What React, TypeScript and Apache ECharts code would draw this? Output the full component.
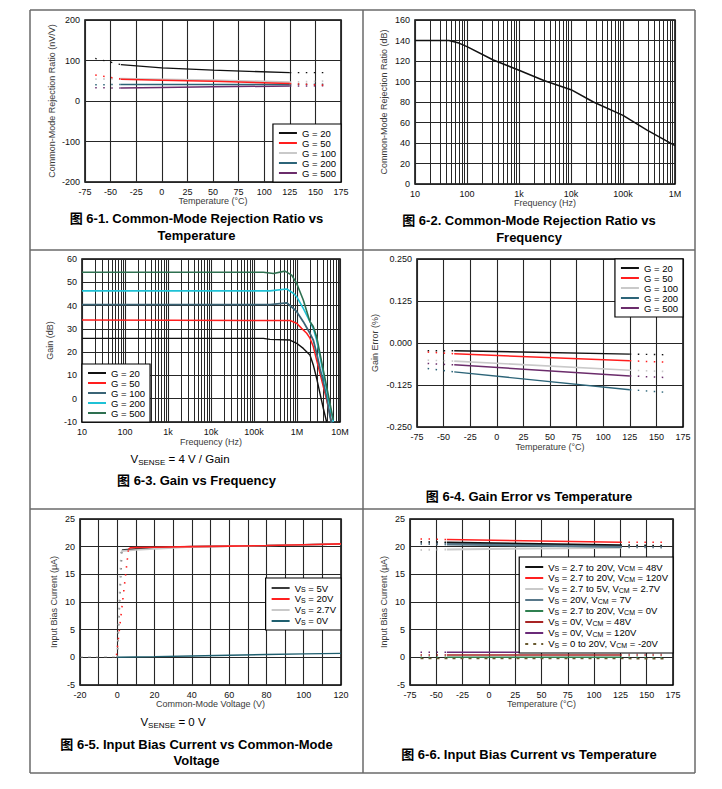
import React, { useEffect, useRef } from "react";
import * as echarts from "echarts";

const FONT = "'Liberation Sans', Arial, Helvetica, 'Noto Sans CJK SC', sans-serif";

// ---------- Fig 6-1: CMRR vs temperature ----------
const T1_SOLID_X = [-40, 0, 50, 125];
const T1_EXT_X = [-65, 160];
const CMRR_T_G20 = [90, 82, 76, 70];
const CMRR_T_G50 = [54, 51.5, 48.5, 43];
const CMRR_T_G100 = [55, 53.5, 51.5, 46.5];
const CMRR_T_G200 = [41, 41, 41, 41];
const CMRR_T_G500 = [32, 33.5, 35, 37];
const CMRR_T_G20_EXT = [105, 70];
const CMRR_T_G50_EXT = [64, 39];
const CMRR_T_G100_EXT = [54, 49];
const CMRR_T_G200_EXT = [40, 41.5];
const CMRR_T_G500_EXT = [33, 37.5];

// ---------- Fig 6-2: CMRR vs frequency ----------
const F2 = [10, 45, 70, 100, 320, 1000, 3000, 10000, 27000, 100000, 290000, 1000000];
const CMRR_DB = [140, 140, 137.5, 134, 121, 111, 101, 92, 80, 67, 52.5, 37.5];
const FREQ_LABELS = ["10", "100", "1k", "10k", "100k", "1M", "10M"];

// ---------- Fig 6-3: Gain vs frequency ----------
const F3_G20 = [10, 165e3, 236e3, 687e3, 983e3, 1.4e6, 2.0e6, 2.39e6, 2.86e6, 3.42e6, 4.09e6, 4.89e6];
const GAIN_G20 = [25.9, 25.9, 25.5, 25.2, 23.8, 21.6, 18.8, 14.5, 8.8, 2.3, -4.1, -10];
const F3_G50 = [10, 687e3, 983e3, 1.28e6, 1.68e6, 2.0e6, 2.39e6, 2.86e6, 3.42e6, 4.09e6, 4.89e6, 6.38e6];
const GAIN_G50 = [33.8, 33.6, 32.4, 30.2, 28.1, 26, 22.4, 16.6, 10.9, 5.2, -0.5, -10];
const F3_G100 = [10, 236e3, 575e3, 822e3, 983e3, 1.4e6, 2.0e6, 2.39e6, 2.86e6, 3.42e6, 4.09e6, 4.89e6, 5.84e6, 6.38e6];
const GAIN_G100 = [40.4, 40.4, 41.2, 38.8, 37.4, 33.1, 28.1, 25.2, 19.5, 13, 7.3, 0.9, -7.7, -10.5];
const F3_G200 = [10, 236e3, 575e3, 822e3, 983e3, 1.4e6, 2.0e6, 2.39e6, 2.86e6, 3.42e6, 4.09e6, 4.89e6, 5.84e6, 6.98e6];
const GAIN_G200 = [46.3, 46.3, 47.1, 45.3, 43.8, 38.8, 33.1, 30.2, 25.2, 18.1, 10.9, 3.7, -3.4, -10];
const F3_G500 = [10, 165e3, 282e3, 526e3, 752e3, 983e3, 1.4e6, 2.0e6, 2.39e6, 2.86e6, 3.42e6, 4.09e6, 4.89e6, 5.84e6, 6.98e6];
const GAIN_G500 = [54.3, 54.3, 53.8, 54.8, 53.1, 49.5, 42.4, 33.1, 31, 26.6, 19.5, 12.3, 5.2, -2, -9.1];

// ---------- Fig 6-4: Gain error vs temperature ----------
const T4_SOLID_X = [-40, 125];
const T4_EXT_X = [-65, 160];
const GE_G20 = [-0.023, -0.033];
const GE_G50 = [-0.032, -0.053];
const GE_G100 = [-0.054, -0.081];
const GE_G200 = [-0.086, -0.139];
const GE_G500 = [-0.065, -0.098];
const GE_G20_EXT = [-0.023, -0.035];
const GE_G50_EXT = [-0.027, -0.057];
const GE_G100_EXT = [-0.051, -0.085];
const GE_G200_EXT = [-0.076, -0.147];
const GE_G500_EXT = [-0.061, -0.103];

// ---------- Fig 6-5: Input bias current vs common-mode voltage ----------
const VCM_5V = [2.5, 10, 20, 40, 60, 80, 100, 120];
const IB_5V = [19.4, 19.6, 19.8, 20.0, 20.1, 20.2, 20.35, 20.5];
const VCM_20V = [6, 7, 10, 20, 40, 60, 80, 100, 120];
const IB_20V = [19.5, 19.8, 19.85, 19.9, 20.0, 20.1, 20.2, 20.35, 20.5];
const VCM_27V = [2, 10, 20, 40, 60, 80, 100, 120];
const IB_27V = [19.2, 19.4, 19.6, 19.95, 20.1, 20.2, 20.35, 20.5];
const VCM_0V = [0, 20, 40, 60, 80, 100, 120];
const IB_0V = [0.02, 0.12, 0.25, 0.38, 0.5, 0.62, 0.72];
const VCM_5V_LOW = [0, 2.5];
const IB_5V_LOW = [0, 19.4];
const VCM_27V_LOW = [0, 2];
const IB_27V_LOW = [0, 19.2];
const VCM_20V_LOW = [-0.4, 6];
const IB_20V_LOW = [0.4, 19.5];
const VCM_0V_NEG = [-20, 0];
const IB_0V_NEG = [0, 0.02];

// ---------- Fig 6-6: Input bias current vs temperature ----------
const T6_SOLID_X = [-40, 125];
const T6_EXT_X = [-65, 168];
const IB6_48 = [20.8, 20.3];
const IB6_120 = [21.3, 20.8];
const IB6_27 = [19.5, 19.8];
const IB6_7 = [20.5, 20.05];
const IB6_0 = [0.02, 0.02];
const IB6_VS0_48 = [0.4, 0.4];
const IB6_VS0_120 = [0.9, 0.9];
const IB6_48_EXT = [20.9, 20.2];
const IB6_120_EXT = [21.4, 20.8];
const IB6_27_EXT = [19.4, 19.8];
const IB6_7_EXT = [20.6, 20.0];
const IB6_0_EXT = [0.0, -0.05];
const IB6_VS0_48_EXT = [0.4, 0.4];
const IB6_VS0_120_EXT = [0.9, 0.85];
const IB6_NEG20_X = [-65, 168];
const IB6_NEG20 = [-0.2, -0.25];

const LABELS_5 = ["V{s|S} = 5V", "V{s|S} = 20V", "V{s|S} = 2.7V", "V{s|S} = 0V"];
const LABELS_6 = [
  "V{s|S} = 2.7 to 20V, V{s|CM} = 48V",
  "V{s|S} = 2.7 to 20V, V{s|CM} = 120V",
  "V{s|S} = 2.7 to 5V, V{s|CM} = 2.7V",
  "V{s|S} = 20V, V{s|CM} = 7V",
  "V{s|S} = 2.7 to 20V, V{s|CM} = 0V",
  "V{s|S} = 0V, V{s|CM} = 48V",
  "V{s|S} = 0V, V{s|CM} = 120V",
  "V{s|S} = 0 to 20V, V{s|CM} = -20V",
];
const G_LABELS = ["G = 20", "G = 50", "G = 100", "G = 200", "G = 500"];

const DOT: any = [1.5, 6.5];

function line(name: string, gi: number, xs: number[], ys: number[], color: string, width = 1.4, type: any = "solid", extra: any = {}) {
  return {
    type: "line",
    name,
    xAxisIndex: gi,
    yAxisIndex: gi,
    data: xs.map((x, i) => [x, ys[i]]),
    showSymbol: false,
    symbol: "none",
    silent: true,
    color,
    lineStyle: { color, width, type, cap: "butt" },
    z: 3,
    animation: false,
    ...extra,
  };
}

function trio(name: string, gi: number, sx: number[], sy: number[], ex: number[], ey: number[], color: string, width = 1.4) {
  const n = sx.length - 1;
  return [
    line(name, gi, sx, sy, color, width),
    line(name + " L", gi, [ex[0], sx[0]], [ey[0], sy[0]], color, width, DOT),
    line(name + " R", gi, [sx[n], ex[1]], [sy[n], ey[1]], color, width, DOT),
  ];
}

const minorLogs = (lo: number, hi: number) => {
  const out: any[] = [];
  for (let d = lo; d < hi; d *= 10) for (let k = 2; k <= 9; k++) out.push({ xAxis: d * k });
  return out;
};

const lbl = { fontFamily: FONT, fontSize: 9, color: "#111", margin: 5 };
const nameStyle = { fontFamily: FONT, fontSize: 9, color: "#3a3a3a" };
const split = { show: true, lineStyle: { color: "#262626", width: 1.1 } };

function vAxis(gi: number, min: number, max: number, interval: number, name: string, nameGap: number, fmt?: any) {
  return {
    gridIndex: gi,
    type: "value",
    min,
    max,
    interval,
    name,
    nameLocation: "middle",
    nameGap,
    nameTextStyle: nameStyle,
    axisLine: { show: false },
    axisTick: { show: false },
    splitLine: split,
    axisLabel: fmt ? { ...lbl, formatter: fmt } : lbl,
  };
}

function logAxis(gi: number, max: number, name: string, nameGap: number) {
  return {
    gridIndex: gi,
    type: "log",
    logBase: 10,
    min: 10,
    max,
    name,
    nameLocation: "middle",
    nameGap,
    nameTextStyle: nameStyle,
    axisLine: { show: false },
    axisTick: { show: false },
    splitLine: split,
    axisLabel: { ...lbl, formatter: (v: number) => FREQ_LABELS[Math.round(Math.log10(v)) - 1] },
  };
}

const rich = {
  s: { fontFamily: FONT, fontSize: 7, lineHeight: 6, padding: [4, 0, 0, 0], verticalAlign: "bottom", color: "#000" },
};

function legendBox(pos: any, names: string[], formatter: any) {
  return {
    orient: "vertical",
    ...pos,
    data: names,
    formatter,
    selectedMode: false,
    backgroundColor: "#fff",
    borderColor: "#000",
    borderWidth: 1.2,
    borderRadius: 0,
    padding: [4, 5, 4, 5],
    itemGap: 0,
    itemWidth: 18,
    itemHeight: 8,
    itemStyle: { opacity: 0 },
    textStyle: { fontFamily: FONT, fontSize: 9.5, color: "#000", lineHeight: 10, rich },
    z: 6,
  };
}

const stripPrefix = (n: string) => n.slice(n.indexOf(":") + 1);

function grid(left: number, top: number, width: number, height: number) {
  return { left, top, width, height, show: true, borderColor: "#000", borderWidth: 1.5, containLabel: false };
}

function txt(x: number, y: number, text: string, bold = true, size = 13) {
  return {
    type: "text",
    x,
    y,
    silent: true,
    style: {
      text,
      fill: "#000",
      font: `${bold ? "bold " : ""}${size}px ${FONT}`,
      textAlign: "center",
      textVerticalAlign: "middle",
      align: "center",
      verticalAlign: "middle",
    },
  };
}

function richTxt(x: number, y: number, text: string) {
  return {
    type: "text",
    x,
    y,
    silent: true,
    style: {
      text,
      fill: "#000",
      textAlign: "center",
      textVerticalAlign: "middle",
      align: "center",
      verticalAlign: "middle",
      rich: {
        m: { fontFamily: FONT, fontSize: 11.5, lineHeight: 14, color: "#000" },
        s: { fontFamily: FONT, fontSize: 8, lineHeight: 8, padding: [6, 0, 0, 0], verticalAlign: "bottom", color: "#000" },
      },
    },
  };
}

function frameLine(x1: number, y1: number, x2: number, y2: number) {
  return { type: "line", silent: true, shape: { x1, y1, x2, y2 }, style: { stroke: "#6a6a6a", lineWidth: 1.5 } };
}

export default function App() {
  const ref = useRef<HTMLDivElement>(null);
  useEffect(() => {
    if (!ref.current) return;
    const chart = echarts.init(ref.current, undefined, { renderer: "svg" });
    const C = { g20: "#111111", g50: "#ff1e1e", g100: "#c9c9c9", g200: "#2c6478", g500: "#6b2c6b" };
    const C3 = { g20: "#111111", g50: "#ff1e1e", g100: "#3b6476", g200: "#1fc2d6", g500: "#2e7050" };

    const series: any[] = [
      // 6-1
      ...trio("1:G = 500", 0, T1_SOLID_X, CMRR_T_G500, T1_EXT_X, CMRR_T_G500_EXT, C.g500, 1.5),
      ...trio("1:G = 200", 0, T1_SOLID_X, CMRR_T_G200, T1_EXT_X, CMRR_T_G200_EXT, C.g200, 1.5),
      ...trio("1:G = 100", 0, T1_SOLID_X, CMRR_T_G100, T1_EXT_X, CMRR_T_G100_EXT, C.g100, 1.8),
      ...trio("1:G = 50", 0, T1_SOLID_X, CMRR_T_G50, T1_EXT_X, CMRR_T_G50_EXT, C.g50, 1.5),
      ...trio("1:G = 20", 0, T1_SOLID_X, CMRR_T_G20, T1_EXT_X, CMRR_T_G20_EXT, C.g20, 1.3),
      // 6-2
      line("2:CMRR", 1, F2, CMRR_DB, "#111", 1.5, "solid", {
        markLine: {
          silent: true,
          symbol: ["none", "none"],
          label: { show: false },
          lineStyle: { color: "#262626", width: 1, type: "solid" },
          data: minorLogs(10, 1e6),
          z: 1,
          animation: false,
        },
      }),
      // 6-3
      line("3:G = 20", 2, F3_G20, GAIN_G20, C3.g20, 1.4, "solid", {
        markLine: {
          silent: true,
          symbol: ["none", "none"],
          label: { show: false },
          lineStyle: { color: "#262626", width: 1, type: "solid" },
          data: minorLogs(10, 1e7),
          z: 1,
          animation: false,
        },
      }),
      line("3:G = 50", 2, F3_G50, GAIN_G50, C3.g50, 1.5),
      line("3:G = 100", 2, F3_G100, GAIN_G100, C3.g100, 1.8),
      line("3:G = 200", 2, F3_G200, GAIN_G200, C3.g200, 1.6),
      line("3:G = 500", 2, F3_G500, GAIN_G500, C3.g500, 1.6),
      // 6-4
      ...trio("4:G = 20", 3, T4_SOLID_X, GE_G20, T4_EXT_X, GE_G20_EXT, C.g20, 1.4),
      ...trio("4:G = 50", 3, T4_SOLID_X, GE_G50, T4_EXT_X, GE_G50_EXT, C.g50, 1.5),
      ...trio("4:G = 100", 3, T4_SOLID_X, GE_G100, T4_EXT_X, GE_G100_EXT, C.g100, 1.6),
      ...trio("4:G = 200", 3, T4_SOLID_X, GE_G200, T4_EXT_X, GE_G200_EXT, C.g200, 1.4),
      ...trio("4:G = 500", 3, T4_SOLID_X, GE_G500, T4_EXT_X, GE_G500_EXT, C.g500, 1.5),
      // 6-5
      line("5:0", 4, VCM_5V, IB_5V, "#3a3a3a", 1.6),
      line("5:0 low", 4, VCM_5V_LOW, IB_5V_LOW, "#777", 1.6, DOT),
      line("5:2", 4, VCM_27V, IB_27V, "#c9c9c9", 1.6),
      line("5:2 low", 4, VCM_27V_LOW, IB_27V_LOW, "#aaa", 1.6, DOT),
      line("5:1", 4, VCM_20V, IB_20V, "#ff2020", 1.6),
      line("5:1 low", 4, VCM_20V_LOW, IB_20V_LOW, "#ff2020", 1.6, DOT),
      line("5:3", 4, VCM_0V, IB_0V, "#1f5f6f", 1.4),
      line("5:3 neg", 4, VCM_0V_NEG, IB_0V_NEG, "#555", 1.2, [3, 5]),
      // 6-6
      ...trio("6:2", 5, T6_SOLID_X, IB6_27, T6_EXT_X, IB6_27_EXT, "#c9c9c9", 2),
      ...trio("6:3", 5, T6_SOLID_X, IB6_7, T6_EXT_X, IB6_7_EXT, "#58788a", 3),
      ...trio("6:0", 5, T6_SOLID_X, IB6_48, T6_EXT_X, IB6_48_EXT, "#111", 1.5),
      ...trio("6:1", 5, T6_SOLID_X, IB6_120, T6_EXT_X, IB6_120_EXT, "#ff2020", 1.5),
      ...trio("6:4", 5, T6_SOLID_X, IB6_0, T6_EXT_X, IB6_0_EXT, "#2f8050", 1.5),
      ...trio("6:5", 5, T6_SOLID_X, IB6_VS0_48, T6_EXT_X, IB6_VS0_48_EXT, "#a82424", 1.5),
      ...trio("6:6", 5, T6_SOLID_X, IB6_VS0_120, T6_EXT_X, IB6_VS0_120_EXT, "#6a2a78", 1.5),
      line("6:7", 5, IB6_NEG20_X, IB6_NEG20, "#6a5a30", 1.4, [3, 5]),
    ];

    const option: any = {
      animation: false,
      backgroundColor: "#fff",
      textStyle: { fontFamily: FONT },
      grid: [
        grid(85, 20, 256, 162),
        grid(415, 20, 260, 164),
        grid(82, 259, 258, 163),
        grid(417, 259, 266, 168),
        grid(80, 519, 261, 166),
        grid(410, 519, 263, 166),
      ],
      xAxis: [
        vAxis(0, -75, 175, 25, "Temperature (°C)", 14),
        logAxis(1, 1e6, "Frequency (Hz)", 13.5),
        logAxis(2, 1e7, "Frequency (Hz)", 15),
        vAxis(3, -75, 175, 25, "Temperature (°C)", 15),
        vAxis(4, -20, 120, 10, "Common-Mode Voltage (V)", 14.5, (v: number) => (v % 20 === 0 ? String(v) : "")),
        vAxis(5, -75, 175, 25, "Temperature (°C)", 14.5),
      ],
      yAxis: [
        vAxis(0, -200, 200, 100, "Common-Mode Rejection Ratio (nV/V)", 29),
        vAxis(1, 0, 160, 20, "Common-Mode Rejection Ratio (dB)", 27),
        vAxis(2, -10, 60, 10, "Gain (dB)", 28),
        vAxis(3, -0.25, 0.25, 0.125, "Gain Error (%)", 38, (v: number) => v.toFixed(3)),
        vAxis(4, -5, 25, 5, "Input Bias Current (μA)", 22),
        vAxis(5, -5, 25, 5, "Input Bias Current (μA)", 22),
      ],
      legend: [
        legendBox({ right: 381, bottom: 607 }, G_LABELS.map((g) => "1:" + g), stripPrefix),
        legendBox({ left: 82, bottom: 367 }, G_LABELS.map((g) => "3:" + g), stripPrefix),
        legendBox({ right: 39, top: 259 }, G_LABELS.map((g) => "4:" + g), stripPrefix),
        legendBox({ right: 381, top: 578 }, ["5:0", "5:1", "5:2", "5:3"], (n: string) => LABELS_5[Number(stripPrefix(n))]),
        legendBox(
          { right: 49, top: 557 },
          ["6:0", "6:1", "6:2", "6:3", "6:4", "6:5", "6:6", "6:7"],
          (n: string) => LABELS_6[Number(stripPrefix(n))]
        ),
      ],
      series,
      graphic: {
        elements: [
          frameLine(30, 10, 695, 10),
          frameLine(30, 773, 695, 773),
          frameLine(30, 10, 30, 773),
          frameLine(695, 10, 695, 773),
          frameLine(363, 10, 363, 773),
          frameLine(30, 250, 695, 250),
          frameLine(30, 509, 695, 509),
          txt(196.5, 218, "图 6-1. Common-Mode Rejection Ratio vs"),
          txt(196.5, 235, "Temperature"),
          txt(529, 220, "图 6-2. Common-Mode Rejection Ratio vs"),
          txt(529, 237, "Frequency"),
          richTxt(180, 459, "{m|V}{s|SENSE}{m| = 4 V / Gain}"),
          txt(196.5, 480, "图 6-3. Gain vs Frequency"),
          txt(529, 496, "图 6-4. Gain Error vs Temperature"),
          richTxt(173, 722, "{m|V}{s|SENSE}{m| = 0 V}"),
          txt(196.5, 744, "图 6-5. Input Bias Current vs Common-Mode"),
          txt(196.5, 760, "Voltage"),
          txt(529, 754, "图 6-6. Input Bias Current vs Temperature"),
        ],
      },
    };
    chart.setOption(option);
    return () => chart.dispose();
  }, []);
  return <div ref={ref} style={{ position: "fixed", left: 0, top: 0, width: 722, height: 789 }} />;
}
